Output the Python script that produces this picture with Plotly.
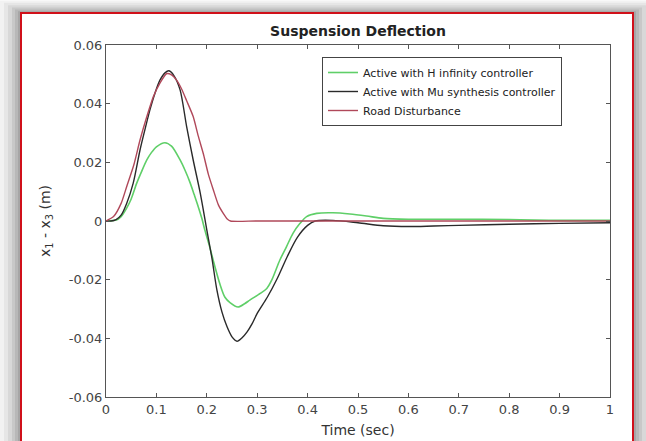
import plotly.graph_objects as go

# ---- data ----
t_road = [0, 0.015, 0.03, 0.041, 0.055, 0.0675, 0.08, 0.094, 0.107, 0.12, 0.13, 0.14, 0.15, 0.16,
          0.173, 0.183, 0.193, 0.203, 0.213, 0.223, 0.233, 0.24, 0.247, 0.3, 0.5, 1.0]
v_road = [0, 0.0015, 0.006, 0.0117, 0.019, 0.0276, 0.035, 0.0424, 0.047, 0.0502, 0.0498, 0.048, 0.045, 0.041,
          0.0356, 0.029, 0.023, 0.016, 0.0106, 0.0055, 0.0025, 0.0008, 0, 0, 0, 0]

t_mu = [0, 0.01, 0.02, 0.03, 0.041, 0.054, 0.0675, 0.077, 0.087, 0.097, 0.107, 0.117, 0.125, 0.135, 0.147,
        0.16, 0.173, 0.187, 0.2, 0.21, 0.22, 0.23, 0.24, 0.25, 0.26, 0.27, 0.28, 0.29, 0.3, 0.32, 0.34,
        0.36, 0.38, 0.4, 0.415, 0.45, 0.5, 0.55, 0.6, 0.65, 0.7, 0.8, 0.9, 1.0]
v_mu = [0, 0, 0.0005, 0.002, 0.006, 0.0129, 0.0242, 0.031, 0.0378, 0.0435, 0.048, 0.0505, 0.0512, 0.0495, 0.0447,
        0.0322, 0.0208, 0.0095, -0.003, -0.0125, -0.0235, -0.031, -0.036, -0.0395, -0.041, -0.0398, -0.0378, -0.035,
        -0.0315, -0.026, -0.0195, -0.012, -0.0055, -0.0015, 0, 0.0002, -0.0006, -0.0016, -0.0019, -0.0017,
        -0.0015, -0.0011, -0.0008, -0.0006]

t_hinf = [0, 0.02, 0.03, 0.041, 0.05, 0.061, 0.071, 0.081, 0.09, 0.1, 0.117, 0.13, 0.147, 0.157, 0.167, 0.175,
          0.183, 0.19, 0.196, 0.206, 0.216, 0.226, 0.236, 0.246, 0.262, 0.275, 0.286, 0.306, 0.319, 0.329, 0.345,
          0.358, 0.371, 0.385, 0.398, 0.418, 0.45, 0.484, 0.517, 0.55, 0.6, 0.7, 0.8, 0.85, 0.9, 1.0]
v_hinf = [0, 0.0003, 0.0015, 0.0044, 0.0075, 0.0129, 0.017, 0.0208, 0.0233, 0.0253, 0.0267, 0.0255, 0.0208,
          0.0172, 0.013, 0.009, 0.0049, 0.001, -0.003, -0.009, -0.0155, -0.0215, -0.026, -0.0278, -0.0293,
          -0.0282, -0.0269, -0.0247, -0.023, -0.0201, -0.0133, -0.0088, -0.0042, -0.0008, 0.0015, 0.0026,
          0.0028, 0.0024, 0.0017, 0.0009, 0.0006, 0.0006, 0.0005, 0.0003, 0.0002, 0.0002]

x_ticks = [0, 0.1, 0.2, 0.3, 0.4, 0.5, 0.6, 0.7, 0.8, 0.9, 1]
x_tick_text = ["0", "0.1", "0.2", "0.3", "0.4", "0.5", "0.6", "0.7", "0.8", "0.9", "1"]
y_ticks = [-0.06, -0.04, -0.02, 0, 0.02, 0.04, 0.06]
y_tick_text = ["-0.06", "-0.04", "-0.02", "0", "0.02", "0.04", "0.06"]

FONT = "DejaVu Sans, Liberation Sans, Arial"
FIG_H = 450  # page is cropped at 441; extra height keeps the plot bottom at 397 px

fig = go.Figure()
fig.add_trace(go.Scatter(x=t_hinf, y=v_hinf, mode="lines", name="Active with H infinity controller",
                         line=dict(color="#5fcf68", width=1.6, shape="spline", smoothing=0.8)))
fig.add_trace(go.Scatter(x=t_mu, y=v_mu, mode="lines", name="Active with Mu synthesis controller",
                         line=dict(color="#2a2a2a", width=1.4, shape="spline", smoothing=0.8)))
fig.add_trace(go.Scatter(x=t_road, y=v_road, mode="lines", name="Road Disturbance",
                         line=dict(color="#b0485a", width=1.4, shape="spline", smoothing=0.6)))

# frame with shadow (paper coords: x px = 106 + 504*x, y px = 397 - 352*y)
def px2x(p):
    return (p - 106) / 504.0

def px2y(p):
    return (397 - p) / 352.0

shapes = []
for k, col in [(21, "#f2f2f2"), (17, "#e6e6e6"), (13, "#d8d8d8"), (9, "#c8c8c8"), (6, "#b8b8b8"), (3, "#a6a6a6")]:
    shapes.append(dict(type="rect", xref="paper", yref="paper", layer="below",
                       x0=px2x(21 - k), x1=px2x(633 + k), y0=px2y(480), y1=px2y(13 - k * 0.6),
                       fillcolor=col, line=dict(width=0)))
shapes.append(dict(type="rect", xref="paper", yref="paper", layer="below",
                   x0=px2x(21), x1=px2x(633), y0=px2y(480), y1=px2y(13),
                   fillcolor="white", line=dict(color="#d0101a", width=2)))

axis_common = dict(showline=True, linecolor="#555555", linewidth=1, mirror="ticks",
                   ticks="inside", ticklen=4, tickcolor="#555555", showgrid=False, zeroline=False,
                   tickfont=dict(family=FONT, size=13, color="#444444"))

fig.update_layout(
    width=646, height=FIG_H,
    margin=dict(l=106, r=36, t=45, b=FIG_H - 397),
    paper_bgcolor="white", plot_bgcolor="white",
    shapes=shapes,
    title=dict(text="<b>Suspension Deflection</b>", x=358 / 646, xanchor="center", y=1 - 31 / FIG_H,
               yanchor="middle", font=dict(family=FONT, size=14, color="#222222")),
    xaxis=dict(range=[0, 1], tickvals=x_ticks, ticktext=x_tick_text,
               title=dict(text="Time (sec)", standoff=9,
                          font=dict(family=FONT, size=14, color="#333333")),
               **axis_common),
    yaxis=dict(range=[-0.06, 0.06], tickvals=y_ticks, ticktext=y_tick_text,
               title=dict(text="x<sub>1</sub> - x<sub>3</sub> (m)", standoff=14,
                          font=dict(family=FONT, size=14, color="#333333")),
               **axis_common),
    legend=dict(x=px2x(322), y=px2y(57), xanchor="left", yanchor="top",
                bgcolor="white", bordercolor="#444444", borderwidth=1,
                font=dict(family=FONT, size=11, color="#222222"),
                tracegroupgap=0, itemwidth=30),
    showlegend=True,
)

fig.write_html("out.html", config={"displayModeBar": False},
               post_script="document.body.style.margin='0';document.body.style.padding='0';")
